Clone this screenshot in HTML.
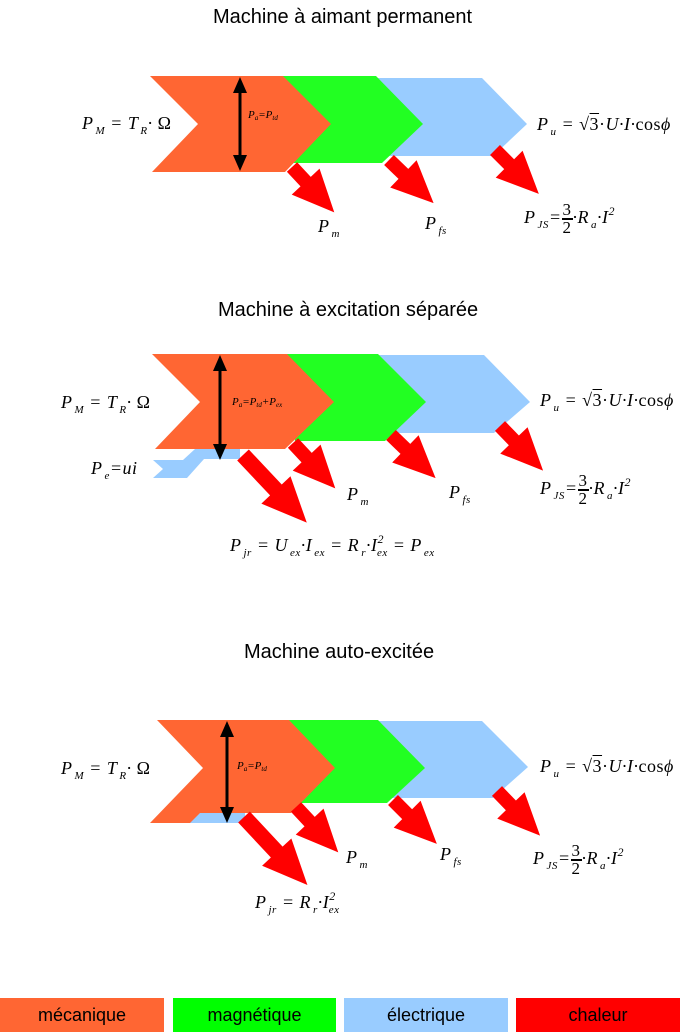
<!DOCTYPE html>
<html><head><meta charset="utf-8"><style>
html,body{margin:0;padding:0;background:#fff;}
body{width:687px;height:1033px;position:relative;overflow:hidden;font-family:"Liberation Sans",sans-serif;}
.t{position:absolute;font-size:20px;color:#000;white-space:nowrap;}
.m{position:absolute;font-family:"Liberation Serif",serif;font-style:italic;font-size:18px;color:#000;white-space:nowrap;line-height:1;letter-spacing:0.5px;}
.m sub{font-size:11px;vertical-align:-5px;margin-left:2px;}
.m sup{font-size:12px;vertical-align:8px;}
.s{font-size:11px;letter-spacing:0;}
.s sub{font-size:7px;vertical-align:-2px;margin-left:0;}
.n{font-style:normal;}
.fr{display:inline-block;vertical-align:middle;text-align:center;font-style:normal;font-size:17px;line-height:16px;}
.fr span{display:block;}
.fr .top{border-bottom:2px solid #000;padding:0 1px;}
.lg{position:absolute;top:998px;height:34px;font-size:18px;line-height:34px;text-align:center;color:#000;}
</style></head><body>
<svg width="687" height="1033" style="position:absolute;left:0;top:0">
<defs>
<polygon id="ar" points="0,-7 20,-7 20,-19 62,0 20,19 20,7 0,7" fill="#ff0000"/>
<polygon id="arb" points="0,-8 48,-8 48,-20 93,0 48,20 48,8 0,8" fill="#ff0000"/>
</defs>
<!-- Diagram 1 -->
<polygon points="375,78 482,78 527,124 493,156 380,156" fill="#99ccff"/>
<polygon points="283,76 376,76 423,124 382,163 293,163" fill="#22ff22"/>
<polygon points="150,76 283,76 331,124 285,172 152,172 198,124" fill="#ff6633"/>
<use href="#ar" transform="translate(292,167) rotate(47)"/>
<use href="#ar" transform="translate(389,160) rotate(44)"/>
<use href="#ar" transform="translate(495,150) rotate(45)"/>
<line x1="240" y1="86" x2="240" y2="161" stroke="#000" stroke-width="3"/>
<polygon points="240,77 233,93 247,93" fill="#000"/>
<polygon points="240,171 233,155 247,155" fill="#000"/>
<!-- Diagram 2 -->
<polygon points="378,355 484,355 530,402 494,433 385,433" fill="#99ccff"/>
<polygon points="287,354 378,354 426,402 385,441 295,441" fill="#22ff22"/>
<polygon points="153,460 183,460 195,449 240,449 240,459 204,459 187,478 153,478 163,469" fill="#99ccff"/>
<polygon points="152,354 287,354 334,402 285,449 155,449 200,402" fill="#ff6633"/>
<use href="#arb" transform="translate(243,455) rotate(46.7)"/>
<use href="#ar" transform="translate(293,443) rotate(47)"/>
<use href="#ar" transform="translate(391,435) rotate(44)"/>
<use href="#ar" transform="translate(500,426) rotate(46)"/>
<line x1="220" y1="364" x2="220" y2="450" stroke="#000" stroke-width="3"/>
<polygon points="220,355 213,371 227,371" fill="#000"/>
<polygon points="220,460 213,444 227,444" fill="#000"/>
<!-- Diagram 3 -->
<polygon points="378,721 482,721 528,767 493,798 387,798" fill="#99ccff"/>
<polygon points="289,720 378,720 425,768 387,803 296,803" fill="#22ff22"/>
<polygon points="190,813 245,813 245,823 190,823" fill="#99ccff"/>
<polygon points="157,720 289,720 335,768 291,813 200,813 190,823 150,823 203,768" fill="#ff6633"/>
<use href="#arb" transform="translate(244,817) rotate(47)"/>
<use href="#ar" transform="translate(296,807) rotate(47)"/>
<use href="#ar" transform="translate(393,800) rotate(45)"/>
<use href="#ar" transform="translate(497,791) rotate(46)"/>
<line x1="227" y1="730" x2="227" y2="813" stroke="#000" stroke-width="3"/>
<polygon points="227,721 220,737 234,737" fill="#000"/>
<polygon points="227,823 220,807 234,807" fill="#000"/>
</svg>

<div class="t" style="left:213px;top:6px;">Machine à aimant permanent</div>
<div class="t" style="left:218px;top:299px;">Machine à excitation séparée</div>
<div class="t" style="left:244px;top:641px;">Machine auto-excitée</div>

<!-- D1 labels -->
<div class="m" style="left:82px;top:114px;">P<sub>M</sub> = T<sub>R</sub>· <span class="n">Ω</span></div>
<div class="m s" style="left:248px;top:110px;">P<sub>a</sub>=P<sub>td</sub></div>
<div class="m" style="left:537px;top:115px;">P<sub>u</sub> = <span class="n">√<span style="text-decoration:overline">3</span>·</span>U·I·<span class="n">cos</span>ϕ</div>
<div class="m" style="left:318px;top:217px;">P<sub>m</sub></div>
<div class="m" style="left:425px;top:214px;">P<sub>fs</sub></div>
<div class="m" style="left:524px;top:202px;">P<sub>JS</sub>=<span class="fr"><span class="top">3</span><span>2</span></span>·R<sub>a</sub>·I<sup>2</sup></div>

<!-- D2 labels -->
<div class="m" style="left:61px;top:393px;">P<sub>M</sub> = T<sub>R</sub>· <span class="n">Ω</span></div>
<div class="m s" style="left:232px;top:397px;">P<sub>a</sub>=P<sub>td</sub>+P<sub>ex</sub></div>
<div class="m" style="left:540px;top:391px;">P<sub>u</sub> = <span class="n">√<span style="text-decoration:overline">3</span>·</span>U·I·<span class="n">cos</span>ϕ</div>
<div class="m" style="left:91px;top:459px;">P<sub>e</sub>=ui</div>
<div class="m" style="left:347px;top:485px;">P<sub>m</sub></div>
<div class="m" style="left:449px;top:483px;">P<sub>fs</sub></div>
<div class="m" style="left:540px;top:473px;">P<sub>JS</sub>=<span class="fr"><span class="top">3</span><span>2</span></span>·R<sub>a</sub>·I<sup>2</sup></div>
<div class="m" style="left:230px;top:533px;">P<sub>jr</sub> = U<sub>ex</sub>·I<sub>ex</sub> = R<sub>r</sub>·I<sup>2</sup><sub style="margin-left:-7px">ex</sub> = P<sub>ex</sub></div>

<!-- D3 labels -->
<div class="m" style="left:61px;top:759px;">P<sub>M</sub> = T<sub>R</sub>· <span class="n">Ω</span></div>
<div class="m s" style="left:237px;top:761px;">P<sub>a</sub>=P<sub>td</sub></div>
<div class="m" style="left:540px;top:757px;">P<sub>u</sub> = <span class="n">√<span style="text-decoration:overline">3</span>·</span>U·I·<span class="n">cos</span>ϕ</div>
<div class="m" style="left:346px;top:848px;">P<sub>m</sub></div>
<div class="m" style="left:440px;top:845px;">P<sub>fs</sub></div>
<div class="m" style="left:533px;top:843px;">P<sub>JS</sub>=<span class="fr"><span class="top">3</span><span>2</span></span>·R<sub>a</sub>·I<sup>2</sup></div>
<div class="m" style="left:255px;top:890px;">P<sub>jr</sub> = R<sub>r</sub>·I<sup>2</sup><sub style="margin-left:-7px">ex</sub></div>

<!-- legend -->
<div class="lg" style="left:0;width:164px;background:#ff6633;">mécanique</div>
<div class="lg" style="left:173px;width:163px;background:#00ff00;">magnétique</div>
<div class="lg" style="left:344px;width:164px;background:#99ccff;">électrique</div>
<div class="lg" style="left:516px;width:164px;background:#ff0000;">chaleur</div>
</body></html>
